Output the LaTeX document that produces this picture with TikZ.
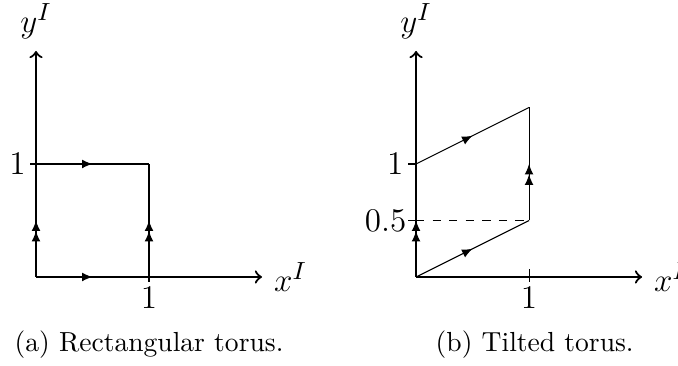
\documentclass[tikz,border=0pt]{standalone}
\usepackage{amsmath}
\usepackage{tikz}
\usetikzlibrary{arrows.meta,decorations.markings}

\begin{document}
\begin{tikzpicture}[>=to, x=1.44cm, y=1.44cm,
  axis/.style={->, thick},
  edge/.style={thin},
  tickmark/.style={thin},
  lbl/.style={font=\fontsize{13}{15}\selectfont, inner sep=1.5pt},
  midarrow/.style={postaction={decorate, decoration={markings,
    mark=at position 0.5 with {\arrow{Latex[length=3.8pt,width=3.2pt]}}}}},
  dblarrow/.style={postaction={decorate, decoration={markings,
    mark=at position 0.5 with {\arrow{Latex[length=3.8pt,width=3.2pt] Latex[length=3.8pt,width=3.2pt]}}}}}]
  \useasboundingbox (-0.3186,-0.779) rectangle (5.681,2.451);

  % (a) rectangular torus
  \coordinate (A0) at (0,0);
  \coordinate (A1) at (1,0);
  \coordinate (A2) at (1,1);
  \coordinate (A3) at (0,1);
  \coordinate (AX) at (2,0);
  \coordinate (AY) at (0,2);
  \draw[axis] (A0) -- (AX) node[lbl, right, inner sep=4pt] (xlabA) {$x^I$};
  \draw[axis] (A0) -- (AY) node[lbl, above, inner sep=4pt] (ylabA) {$y^I$};
  \draw[edge, midarrow] (A0) -- (A1);
  \draw[edge, dblarrow] (A1) -- (A2);
  \draw[edge, midarrow] (A3) -- (A2);
  \draw[edge, dblarrow] (A0) -- (A3);
  % ticks
  \draw[tickmark] (A3) -- ++(-0.05,0) node[lbl, left] (oneyA) {$1$};
  \draw[tickmark] ([yshift=0.05cm]A1) -- ([yshift=-0.07cm]A1) node[lbl, below] (onexA) {$1$};
  \node (capA) at (1,-0.60) {(a) Rectangular torus.};

  % (b) tilted torus
  \begin{scope}[shift={(3.363,0)}]
    \coordinate (B0) at (0,0);
    \coordinate (B1) at (1,0.5);
    \coordinate (B2) at (1,1.5);
    \coordinate (B3) at (0,1);
    \coordinate (Bh) at (0,0.5);
    \coordinate (Bt) at (1,0);
    \coordinate (BX) at (2,0);
    \coordinate (BY) at (0,2);
    \draw[axis] (B0) -- (BX) node[lbl, right, inner sep=4pt] (xlabB) {$x^I$};
    \draw[axis] (B0) -- (BY) node[lbl, above, inner sep=4pt] (ylabB) {$y^I$};
    \draw[edge, dashed] (Bh) -- (B1);
    \draw[edge, midarrow] (B0) -- (B1);
    \draw[edge, dblarrow] (B1) -- (B2);
    \draw[edge, midarrow] (B3) -- (B2);
    \draw[edge, dblarrow] (B0) -- (B3);
    % ticks
    \draw[tickmark] (B3) -- ++(-0.07,0) node[lbl, left] (oneyB) {$1$};
    \draw[tickmark] (Bh) -- ++(-0.07,0) node[lbl, left, inner sep=0.5pt] (halfyB) {$0.5$};
    \draw[tickmark] ([yshift=0.1cm]Bt) -- ([yshift=-0.07cm]Bt) node[lbl, below] (onexB) {$1$};
    \node (capB) at (1.05,-0.60) {(b) Tilted torus.};
  \end{scope}
\end{tikzpicture}
\end{document}
